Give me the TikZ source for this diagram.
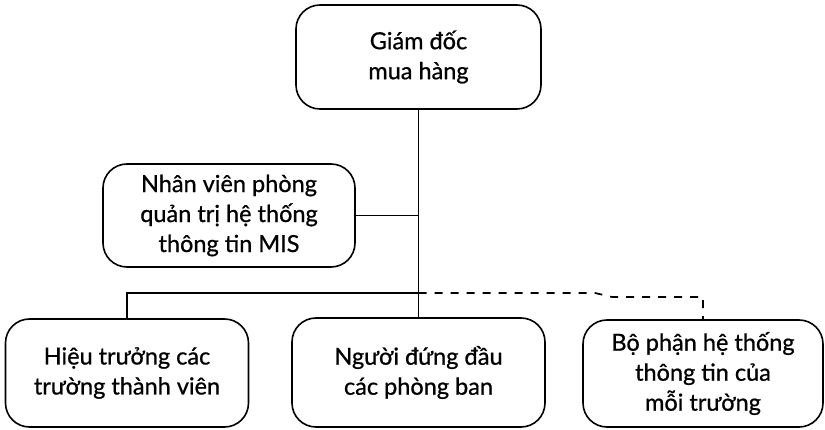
\documentclass[tikz,border=0pt]{standalone}
\usepackage{fontspec}
\setmainfont{Lato}[FakeBold=0.8]
\begin{document}
\begin{tikzpicture}[x=1pt,y=-1pt,
  box/.style={draw, line width=1.6pt, rounded corners=24pt, align=center,
    inner sep=0pt, font=\fontsize{23.5}{30}\selectfont},
  link/.style={line width=1.3pt},
  dlink/.style={line width=1.7pt, dash pattern=on 8pt off 8pt}]
\useasboundingbox (0,0) rectangle (825,430);

% boxes
\node[box, minimum width=245pt, minimum height=104pt] (top) at (418.5,57) {Giám đốc\\mua hàng};
\node[box, minimum width=252pt, minimum height=103pt] (mis) at (229,215.5) {Nhân viên phòng\\quản trị hệ thống\\thông tin MIS};
\node[box, minimum width=243pt, minimum height=108pt] (left) at (127,373) {Hiệu trưởng các\\trường thành viên};
\node[box, minimum width=253pt, minimum height=109pt] (mid) at (418.5,372.5) {Người đứng đầu\\các phòng ban};
\node[box, minimum width=240pt, minimum height=107pt] (right) at (703,373.5) {Bộ phận hệ thống\\thông tin của\\mỗi trường};

% junction points
\coordinate (j) at (418.5,293);
\coordinate (jm) at (418.5,215.5);
\coordinate (jl) at (127,293);
\coordinate (d1) at (595,293);
\coordinate (d2) at (612,297);
\coordinate (jr) at (703,297);

% connectors
\draw[line width=0.8pt] (top.south) -- (mid.north);
\draw[link] (mis.east) -- (jm);
\draw[link] (left.north) -- (jl) -- (j);
\draw[dlink] (j) -- (d1) -- (d2) -- (jr) -- (right.north);
\end{tikzpicture}
\end{document}
